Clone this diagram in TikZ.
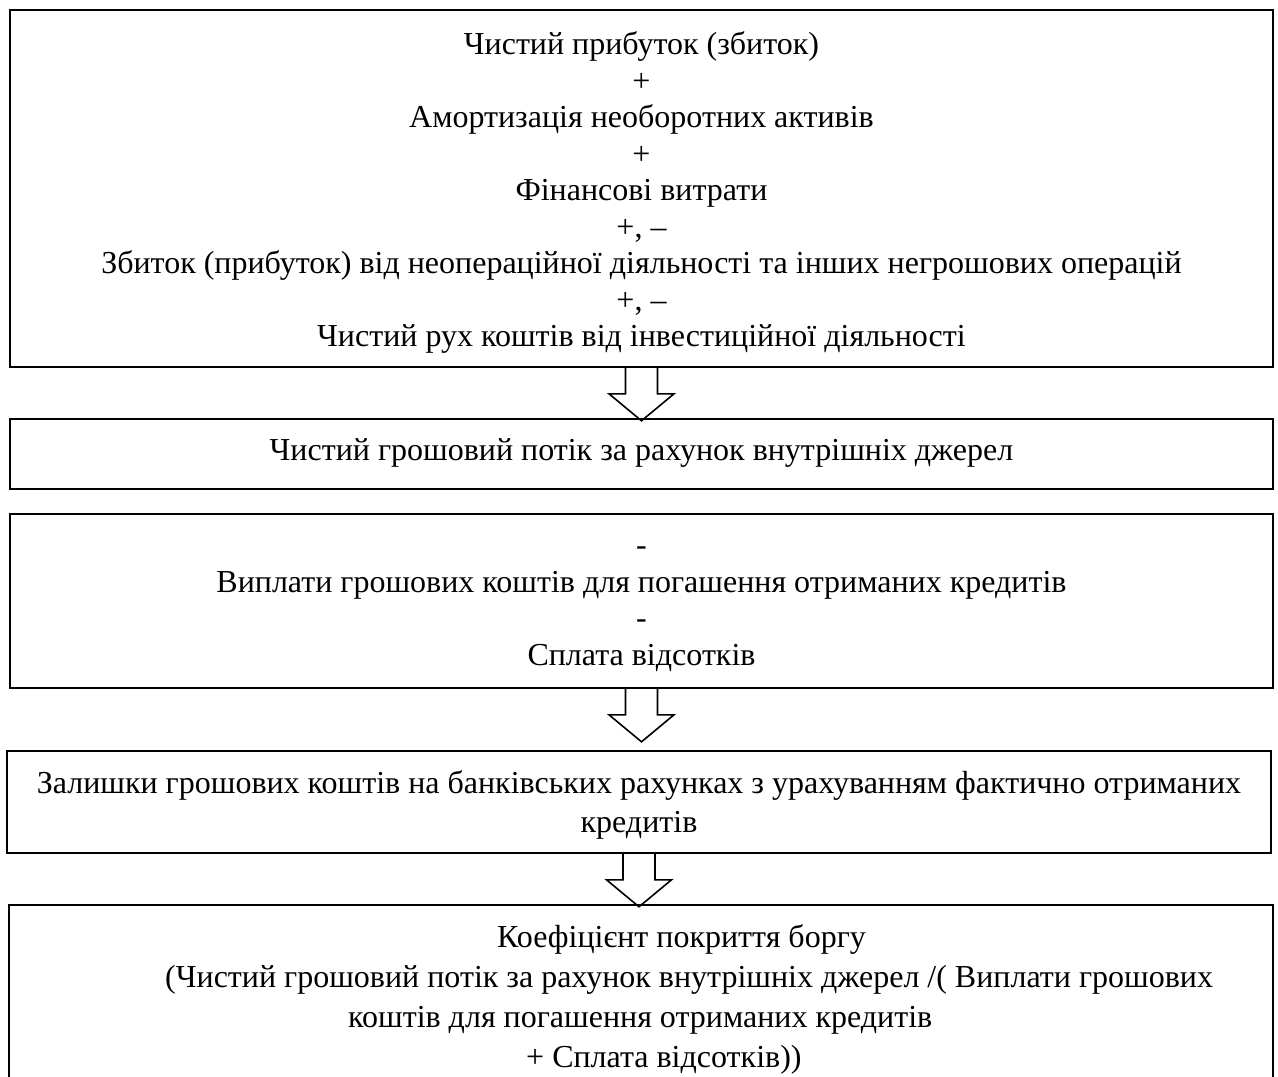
\documentclass[tikz,border=0pt]{standalone}
\usepackage{fontspec}
\setmainfont{Liberation Serif}
\usetikzlibrary{positioning,calc}
\begin{document}
\begin{tikzpicture}[x=1pt,y=-1pt]
  \tikzstyle{block} = [draw=black, line width=1.6pt, rectangle, inner sep=0pt]
  \tikzstyle{words} = [inner sep=0pt, align=center, font=\fontsize{32}{36.5}\selectfont]
  \tikzstyle{txt} = [inner sep=0pt, anchor=base west, font=\fontsize{32}{36.5}\selectfont]
  \tikzstyle{hollow} = [draw=black, line width=1.6pt, line join=miter]
  \useasboundingbox (0,0) rectangle (1278,1077);

  \node[block, minimum width=1263, minimum height=357] (b1) at (641.5,188.5) {};
  \node[block, minimum width=1263, minimum height=70] (b2) at (641.5,454) {};
  \node[block, minimum width=1263, minimum height=174] (b3) at (641.5,601) {};
  \node[block, minimum width=1264, minimum height=102] (b4) at (639,802) {};
  \node[block, minimum width=1264, minimum height=185] (b5) at (641,997.5) {};

  \node[words] (t1) at ([yshift=-4pt]b1.center)
    {Чистий прибуток (збиток)\\+\\Амортизація необоротних активів\\+\\Фінансові витрати\\+, --\\Збиток (прибуток) від неопераційної діяльності та інших негрошових операцій\\+, --\\Чистий рух коштів від інвестиційної діяльності};
  \node[words] (t2) at ([yshift=1pt]b2.center) {Чистий грошовий потік за рахунок внутрішніх джерел};
  \node[words] (t3) at ([yshift=-8pt]b3.center)
    {-\\Виплати грошових коштів для погашення отриманих кредитів\\-\\Сплата відсотків};
  \node[words, font=\fontsize{32}{39}\selectfont] (t4) at ([yshift=-3pt]b4.center)
    {Залишки грошових коштів на банківських рахунках з урахуванням фактично отриманих\\кредитів};

  % text of the last box
  \node[txt] (k1) at (497,947) {Коефіцієнт покриття боргу};
  \node[txt] (k2) at (165,987) {(Чистий грошовий потік за рахунок внутрішніх джерел /( Виплати грошових};
  \node[txt] (k3) at (348,1027) {коштів для погашення отриманих кредитів};
  \node[txt] (k4) at (526,1067) {+ Сплата відсотків))};

  % hollow arrows
  \foreach \a in {b1,b3,b4}
    \draw[hollow] (\a.south) ++(-16,0) -- ++(0,26) -- ++(-16.5,0) -- ++(32.5,27) -- ++(32.5,-27) -- ++(-16.5,0) -- ++(0,-26);
\end{tikzpicture}
\end{document}
